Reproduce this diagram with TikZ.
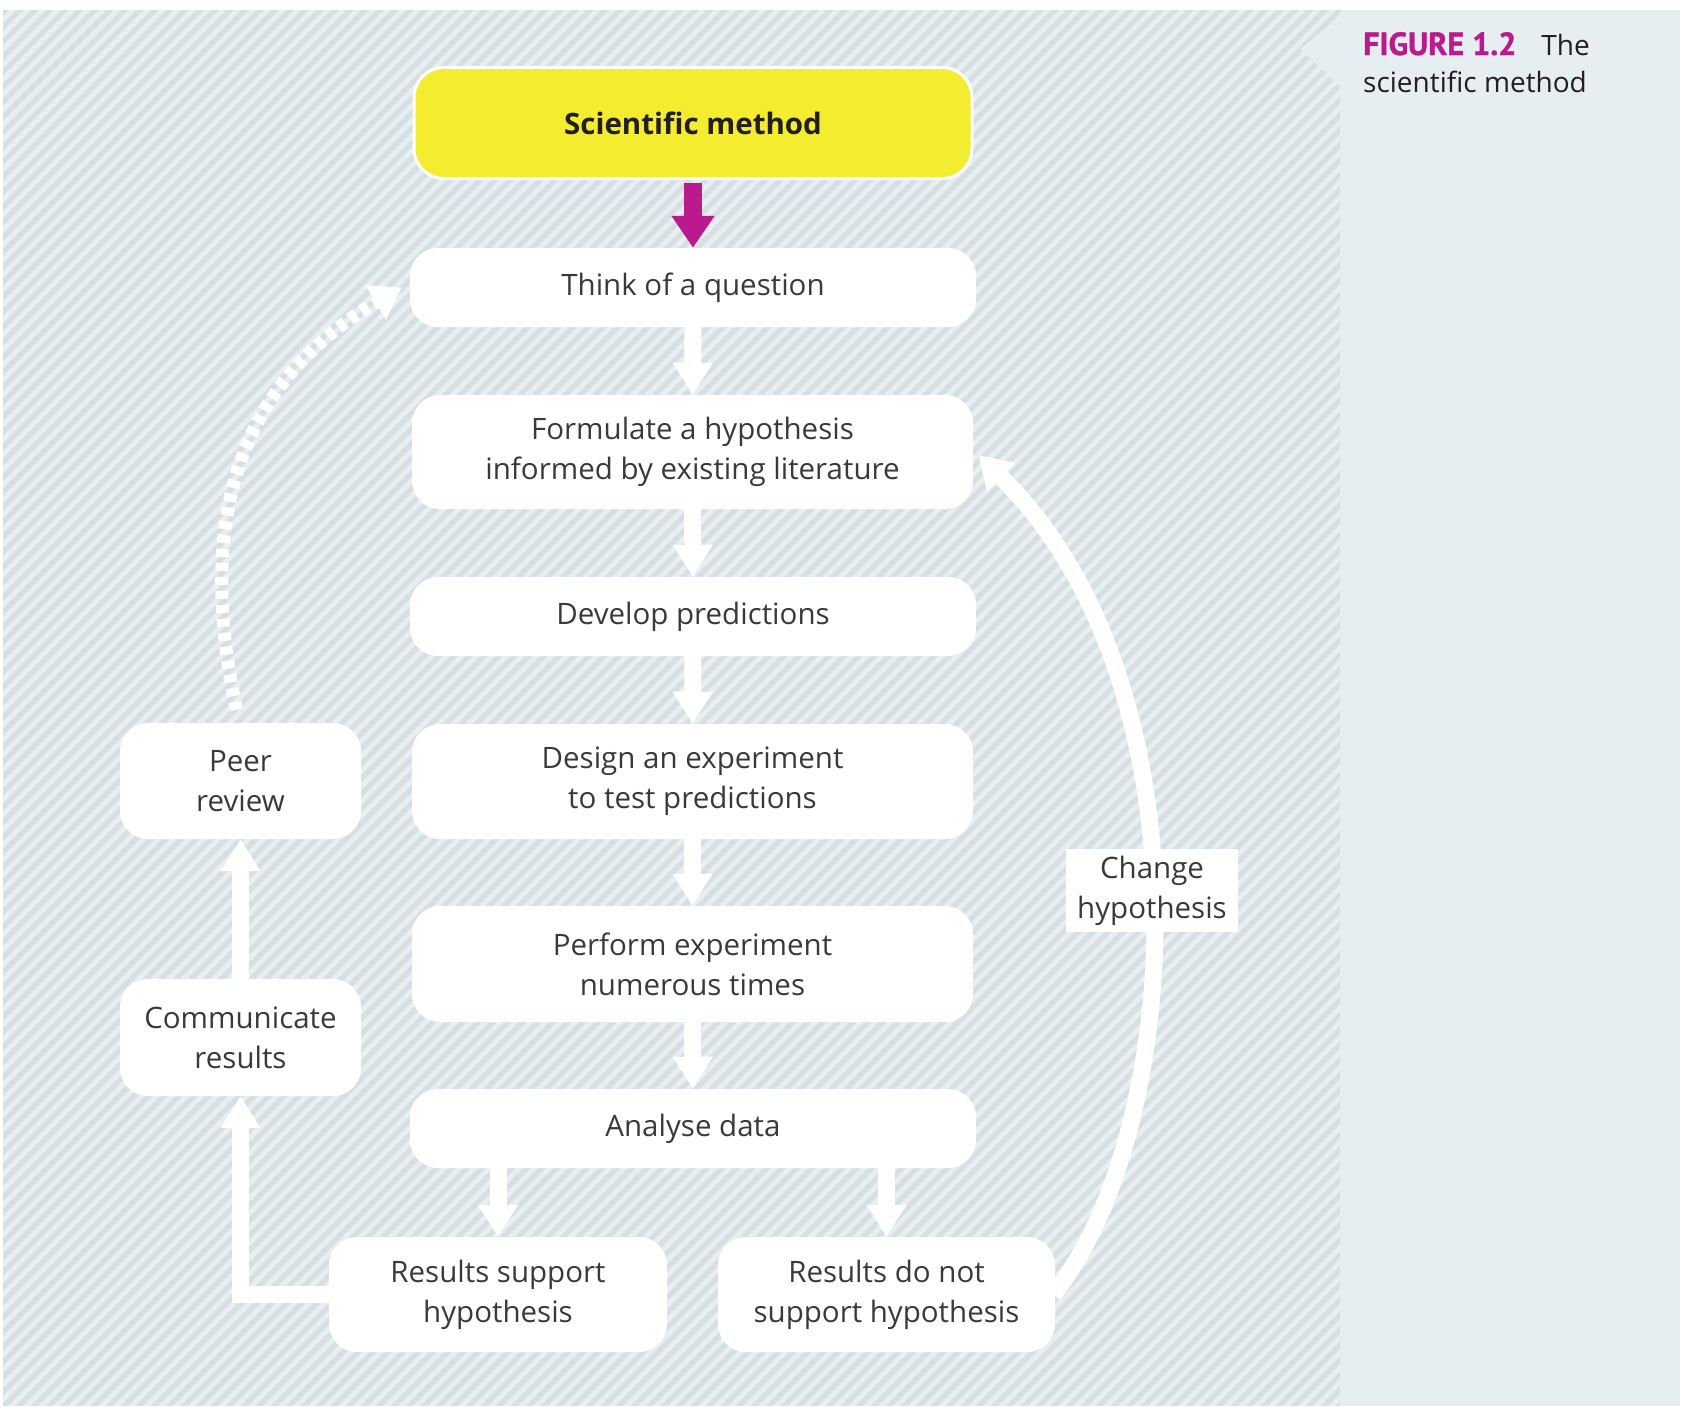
\documentclass[tikz,border=0pt]{standalone}
\usepackage{fontspec}
\setmainfont{Open Sans}
\newfontfamily\figfont[FakeBold=1.2]{PT Sans}
\usetikzlibrary{arrows.meta}
\definecolor{hatchA}{HTML}{E8EFF3}
\definecolor{hatchB}{HTML}{D8DFE3}
\definecolor{panel}{HTML}{E6EEF2}
\definecolor{mag}{HTML}{BA1A8D}
\definecolor{yel}{HTML}{F3EC2F}
\definecolor{txt}{HTML}{3A3A3A}
\definecolor{dark}{HTML}{231F20}
\begin{document}
\begin{tikzpicture}[x=1pt,y=-1pt,
  box/.style={fill=white, rounded corners=28pt, align=center, inner sep=0pt,
    font=\fontsize{29.5}{40}\selectfont, text=txt},
  arr/.style={draw=white, line width=17pt, -{Triangle[length=32pt,width=38pt]}},
  dotarr/.style={draw=white, line width=13pt, dash pattern=on 8pt off 6pt,
    -{Triangle[length=30pt,width=38pt]}},
  lab/.style={fill=white, inner sep=0pt, align=center,
    font=\fontsize{29.5}{40}\selectfont, text=txt}]
\useasboundingbox (0,0) rectangle (1692,1408);
\fill[white] (0,0) rectangle (1692,1408);
\fill[panel] (1300,10) rectangle (1680,1406);
\begin{scope}
  \clip (3,10) -- (1340,10) -- (1340,16) -- (1300,49) -- (1340,86) -- (1340,1406) -- (3,1406) -- cycle;
  \fill[hatchA] (3,10) rectangle (1340,1406);
  \foreach \c in {0,15,...,2775} \draw[hatchB, line width=5.3pt] (\c,0) -- ({\c-1420},1420);
\end{scope}

% top box
\node[fill=yel, draw=white, line width=3pt, rounded corners=30pt, minimum width=558pt,
  minimum height=111pt, inner sep=0pt, text=dark,
  font=\bfseries\fontsize{29.5}{36}\selectfont] (sm) at (693,123) {Scientific method};

% main column
\node[box, minimum width=566pt, minimum height=79pt] (q) at (693,287.5) {Think of a question};
\node[box, minimum width=561pt, minimum height=114pt] (f) at (692.5,452) {Formulate a hypothesis\\informed by existing literature};
\node[box, minimum width=566pt, minimum height=79pt] (d) at (693,616.5) {Develop predictions};
\node[box, minimum width=561pt, minimum height=115pt] (e) at (692.5,781.5) {Design an experiment\\to test predictions};
\node[box, minimum width=561pt, minimum height=116pt] (p) at (692.5,964) {Perform experiment\\numerous times};
\node[box, minimum width=566pt, minimum height=79pt] (a) at (693,1128.5) {Analyse data};
\node[box, minimum width=338pt, minimum height=115pt] (rs) at (498,1294.5) {Results support\\hypothesis};
\node[box, minimum width=337pt, minimum height=115pt] (rn) at (886.5,1294.5) {Results do not\\support hypothesis};
\node[box, minimum width=241pt, minimum height=116pt] (pr) at (240.5,781) {Peer\\review};
\node[box, minimum width=241pt, minimum height=117pt] (cr) at (240.5,1037.5) {Communicate\\results};

% arrows
\draw[draw=mag, line width=18pt, -{Triangle[length=32pt,width=41pt]}, shorten <=3pt] (sm.south) -- (q.north);
\draw[arr] (q.south) -- (f.north);
\draw[arr] (f.south) -- (d.north);
\draw[arr] (d.south) -- (e.north);
\draw[arr] (e.south) -- (p.north);
\draw[arr] (p.south) -- (a.north);
\draw[arr] (rs.north |- a.south) -- (rs.north);
\draw[arr] (rn.north |- a.south) -- (rn.north);
\draw[arr, line join=miter] ([xshift=2pt]rs.west) -| (cr.south);
\draw[arr] (cr.north) -- (pr.south);
\draw[dotarr] ([shift={(-4,-13)}]pr.north) .. controls (200,540) and (225,390) .. ([xshift=-8pt]q.west);
\draw[arr] ([xshift=-2pt]rn.east) .. controls (1185,1130) and (1210,680) .. ([shift={(5,3)}]f.east);

\node[lab, minimum width=172pt, minimum height=83pt] (ch) at (1152,890.5) {Change\\hypothesis};

% caption
\node[anchor=base west, inner sep=0pt, text=mag, font=\figfont\bfseries\fontsize{32}{36}\selectfont] (fig) at (1363,55) {FIGURE 1.2};
\node[anchor=base east, inner sep=0pt, text=dark, font=\fontsize{28}{34}\selectfont] (the) at (1590,55) {The};
\node[anchor=base west, inner sep=0pt, text=dark, font=\fontsize{28}{34}\selectfont] (scm) at (1363,92) {scientific method};
\end{tikzpicture}
\end{document}
